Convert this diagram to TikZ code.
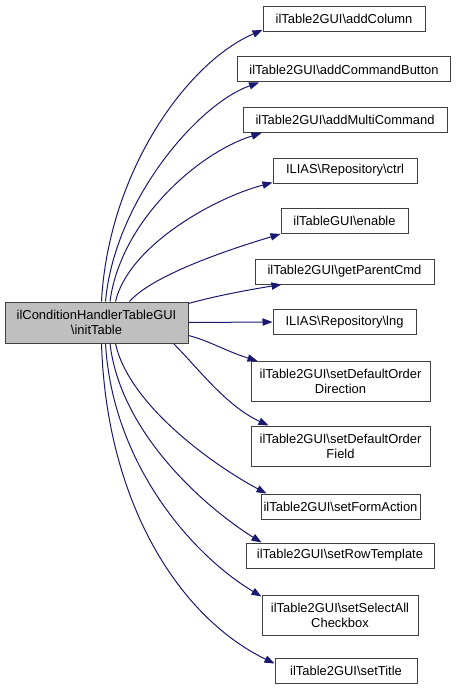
\documentclass[tikz,border=0pt]{standalone}
\usepackage{fontspec}
\setmainfont{Liberation Sans}
\usetikzlibrary{arrows.meta,calc}
\definecolor{edgecol}{RGB}{25,25,112}
\definecolor{boxline}{RGB}{64,64,64}
\definecolor{srcfill}{RGB}{191,191,191}
\newcommand{\bsl}{\textbackslash{}}
\tikzset{
  box/.style={draw=boxline, line width=0.75pt, fill=white, inner sep=0pt, align=center,
    rectangle, font=\fontsize{9.7pt}{11.4pt}\selectfont},
  one/.style={minimum height=18.75pt},
  two/.style={minimum height=30pt},
  edge/.style={draw=edgecol, line width=0.75pt, -{Triangle[length=7.5pt,width=5.5pt,fill=edgecol]}},
}
\begin{document}
\begin{tikzpicture}[x=0.75pt,y=-0.75pt]
\useasboundingbox (0,0) rectangle (457,692);
% source
\node[box, fill=srcfill, minimum width=137.25pt, minimum height=30.75pt] (src) at (96.5,322.5)
  {ilConditionHandlerTableGUI\\\bsl initTable};
% targets
\node[box, one, minimum width=121.5pt]  (n1)  at (344,19)    {ilTable2GUI\bsl addColumn};
\node[box, one, minimum width=159.75pt] (n2)  at (344,69.5)  {ilTable2GUI\bsl addCommandButton};
\node[box, one, minimum width=153pt]    (n3)  at (345,120)   {ilTable2GUI\bsl addMultiCommand};
\node[box, one, minimum width=108pt]    (n4)  at (345,170.5) {ILIAS\bsl Repository\bsl ctrl};
\node[box, one, minimum width=95.25pt]  (n5)  at (344.5,221) {ilTableGUI\bsl enable};
\node[box, one, minimum width=134.25pt] (n6)  at (344.5,271.5) {ilTable2GUI\bsl getParentCmd};
\node[box, one, minimum width=107.25pt] (n7)  at (344.5,322) {ILIAS\bsl Repository\bsl lng};
\node[box, two, minimum width=134.25pt] (n8)  at (340.5,381.5) {ilTable2GUI\bsl setDefaultOrder\\Direction};
\node[box, two, minimum width=134.25pt] (n9)  at (340.5,446) {ilTable2GUI\bsl setDefaultOrder\\Field};
\node[box, one, minimum width=119.25pt] (n10) at (340.5,506.5) {ilTable2GUI\bsl setFormAction};
\node[box, one, minimum width=141pt]    (n11) at (340,555.5) {ilTable2GUI\bsl setRowTemplate};
\node[box, two, minimum width=117pt]    (n12) at (340,615)   {ilTable2GUI\bsl setSelectAll\\Checkbox};
\node[box, one, minimum width=106.5pt]  (n13) at (346,670.5) {ilTable2GUI\bsl setTitle};
% edges (upper fan)
\draw[edge] ($(src.north)+(5,0)$)  .. controls ($(src.north)+(12,-130)$) and ($(n1.south west)+(-75,30)$) .. ($(n1.south west)+(0,-2)$);
\draw[edge] ($(src.north)+(9,0)$)  .. controls ($(src.north)+(18,-100)$) and ($(n2.south west)+(-40,22)$) .. ($(n2.south west)+(22,0)$);
\draw[edge] ($(src.north)+(13.5,0)$) .. controls ($(src.north)+(24,-80)$) and ($(n3.south west)+(-45,20)$) .. ($(n3.south west)+(19,0)$);
\draw[edge] ($(src.north)+(19,0)$) .. controls ($(src.north)+(32,-55)$) and ($(n4.south west)+(-60,15)$) .. ($(n4.south west)+(0,-1)$);
\draw[edge] ($(src.north)+(33,0)$) .. controls ($(src.north)+(55,-25)$) and ($(n5.south west)+(-60,18)$) .. ($(n5.south west)+(0,0)$);
\draw[edge] ($(src.north east)+(0,2)$) .. controls ($(src.north east)+(25,-5)$) and ($(n6.south west)+(-10,6)$) .. ($(n6.south west)+(27,0)$);
\draw[edge] (src.east) -- (n7.west);
% edges (lower fan)
\draw[edge] ($(src.east)+(0,13)$) .. controls ($(src.east)+(20,18)$) and ($(n8.north west)+(-25,-10)$) .. ($(n8.north west)+(7,0)$);
\draw[edge] ($(src.south east)+(-15,0)$) .. controls ($(src.south east)+(10,25)$) and ($(n9.north west)+(-25,-20)$) .. ($(n9.north west)+(18,0)$);
\draw[edge] ($(src.south)+(19,0)$) .. controls ($(src.south)+(32,60)$) and ($(n10.north west)+(-50,-30)$) .. ($(n10.north west)+(6,0)$);
\draw[edge] ($(src.south)+(13.5,0)$) .. controls ($(src.south)+(24,90)$) and ($(n11.north west)+(-40,-35)$) .. ($(n11.north west)+(16,0)$);
\draw[edge] ($(src.south)+(9,0)$)  .. controls ($(src.south)+(16,120)$) and ($(n12.north west)+(-70,-40)$) .. ($(n12.north west)+(0,2)$);
\draw[edge] ($(src.south)+(5,0)$)  .. controls ($(src.south)+(10,160)$) and ($(n13.north west)+(-95,-40)$) .. ($(n13.north west)+(0,6)$);
\end{tikzpicture}
\end{document}
